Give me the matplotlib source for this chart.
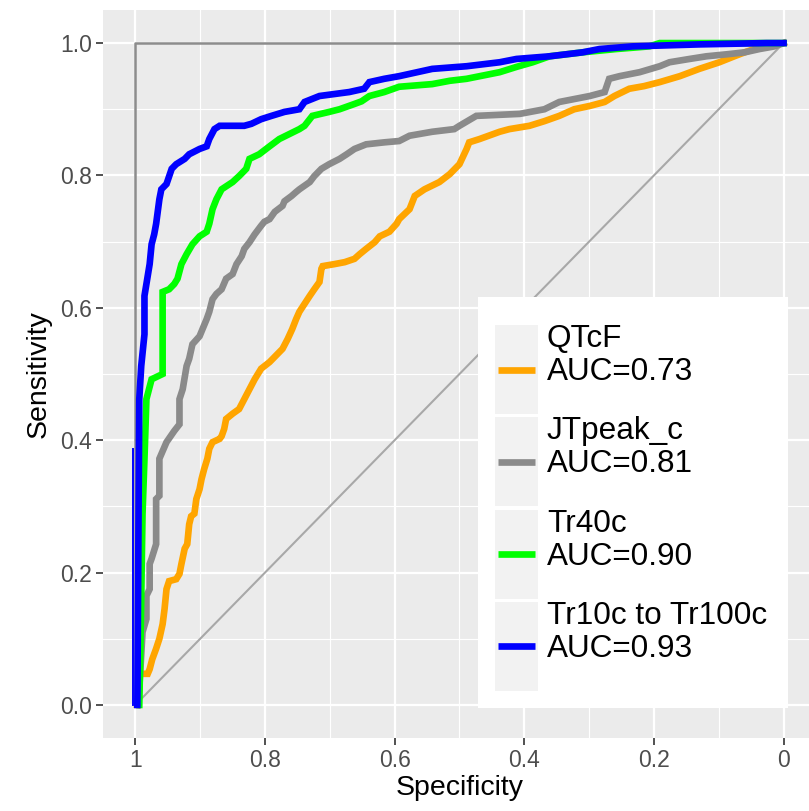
import matplotlib
matplotlib.use("Agg")
import matplotlib.pyplot as plt
from matplotlib.patches import Rectangle

plt.rcParams['font.family'] = ['Liberation Sans', 'DejaVu Sans']

# ROC curves: specificity (x, reversed) and sensitivity (y)
qtcf_spec = [0.997, 0.994, 0.981, 0.978, 0.974, 0.968, 0.963, 0.958, 0.955, 0.952, 0.948, 0.937,
             0.932, 0.929, 0.924, 0.920, 0.917, 0.914, 0.909, 0.906, 0.901, 0.898, 0.894, 0.889,
             0.886, 0.881, 0.870, 0.867, 0.863, 0.860, 0.850, 0.840, 0.832, 0.824, 0.816, 0.806,
             0.793, 0.781, 0.773, 0.765, 0.758, 0.752, 0.747, 0.739, 0.731, 0.724, 0.716, 0.713,
             0.711, 0.693, 0.677, 0.662, 0.654, 0.644, 0.631, 0.623, 0.608, 0.597, 0.593, 0.577,
             0.569, 0.554, 0.531, 0.515, 0.500, 0.489, 0.485, 0.469, 0.438, 0.423, 0.392, 0.369,
             0.346, 0.323, 0.299, 0.276, 0.261, 0.238, 0.215, 0.191, 0.160, 0.130, 0.099, 0.076,
             0.060, 0.045, 0.022, 0.0]
qtcf_sens = [0.0, 0.047, 0.047, 0.054, 0.069, 0.085, 0.100, 0.122, 0.145, 0.175, 0.187, 0.190,
             0.198, 0.213, 0.236, 0.243, 0.273, 0.285, 0.289, 0.311, 0.326, 0.341, 0.356, 0.372,
             0.387, 0.397, 0.402, 0.406, 0.417, 0.432, 0.440, 0.447, 0.462, 0.477, 0.492, 0.508,
             0.518, 0.530, 0.538, 0.553, 0.568, 0.583, 0.594, 0.606, 0.618, 0.628, 0.639, 0.659,
             0.663, 0.666, 0.669, 0.674, 0.681, 0.689, 0.699, 0.708, 0.715, 0.727, 0.734, 0.749,
             0.769, 0.779, 0.790, 0.802, 0.817, 0.840, 0.850, 0.855, 0.866, 0.870, 0.875, 0.882,
             0.890, 0.900, 0.905, 0.911, 0.920, 0.931, 0.935, 0.941, 0.950, 0.961, 0.971, 0.980,
             0.986, 0.991, 0.995, 1.0]

jt_spec = [0.997, 0.994, 0.989, 0.983, 0.983, 0.978, 0.978, 0.975, 0.968, 0.968, 0.963, 0.963,
           0.952, 0.940, 0.932, 0.932, 0.927, 0.921, 0.917, 0.912, 0.901, 0.890, 0.886, 0.881,
           0.875, 0.867, 0.860, 0.850, 0.844, 0.836, 0.832, 0.824, 0.816, 0.806, 0.801, 0.793,
           0.785, 0.773, 0.770, 0.759, 0.752, 0.747, 0.731, 0.724, 0.713, 0.701, 0.685, 0.674,
           0.662, 0.644, 0.616, 0.593, 0.577, 0.542, 0.508, 0.500, 0.474, 0.407, 0.369, 0.346,
           0.299, 0.276, 0.269, 0.253, 0.222, 0.191, 0.176, 0.145, 0.119, 0.088, 0.060, 0.037,
           0.014, 0.0]
jt_sens = [0.0, 0.024, 0.110, 0.130, 0.165, 0.175, 0.213, 0.221, 0.243, 0.311, 0.316, 0.372,
           0.397, 0.414, 0.424, 0.462, 0.477, 0.512, 0.523, 0.545, 0.557, 0.583, 0.594, 0.613,
           0.621, 0.628, 0.644, 0.651, 0.666, 0.678, 0.689, 0.699, 0.711, 0.724, 0.730, 0.734,
           0.745, 0.754, 0.761, 0.769, 0.775, 0.779, 0.790, 0.799, 0.810, 0.817, 0.825, 0.832,
           0.840, 0.847, 0.850, 0.852, 0.860, 0.866, 0.870, 0.875, 0.890, 0.893, 0.900, 0.911,
           0.920, 0.926, 0.946, 0.950, 0.956, 0.965, 0.971, 0.976, 0.980, 0.983, 0.986, 0.991,
           0.995, 1.0]

tr40_spec = [0.994, 0.992, 0.989, 0.986, 0.983, 0.975, 0.958, 0.958, 0.948, 0.940, 0.935, 0.929,
             0.921, 0.912, 0.901, 0.890, 0.886, 0.881, 0.875, 0.867, 0.850, 0.840, 0.829, 0.824,
             0.809, 0.793, 0.778, 0.747, 0.739, 0.727, 0.701, 0.685, 0.662, 0.651, 0.639, 0.616,
             0.593, 0.542, 0.515, 0.489, 0.438, 0.412, 0.387, 0.361, 0.310, 0.258, 0.207, 0.191,
             0.0]
tr40_sens = [0.0, 0.100, 0.289, 0.372, 0.462, 0.492, 0.500, 0.624, 0.628, 0.636, 0.644, 0.666,
             0.681, 0.696, 0.708, 0.715, 0.727, 0.749, 0.764, 0.779, 0.790, 0.799, 0.810, 0.825,
             0.832, 0.844, 0.855, 0.870, 0.875, 0.890, 0.896, 0.900, 0.908, 0.912, 0.920, 0.926,
             0.934, 0.938, 0.943, 0.946, 0.956, 0.964, 0.971, 0.980, 0.986, 0.991, 0.995, 1.0,
             1.0]

tr10_spec = [0.997, 0.994, 0.991, 0.986, 0.986, 0.978, 0.975, 0.971, 0.968, 0.963, 0.960, 0.952,
             0.944, 0.937, 0.924, 0.917, 0.901, 0.890, 0.886, 0.878, 0.870, 0.832, 0.821, 0.806,
             0.790, 0.770, 0.747, 0.739, 0.716, 0.670, 0.647, 0.639, 0.616, 0.593, 0.542, 0.489,
             0.438, 0.412, 0.361, 0.310, 0.284, 0.233, 0.130, 0.026, 0.0]
tr10_sens = [0.0, 0.462, 0.512, 0.560, 0.618, 0.666, 0.696, 0.711, 0.727, 0.764, 0.779, 0.787,
             0.810, 0.817, 0.825, 0.832, 0.840, 0.844, 0.855, 0.870, 0.875, 0.875, 0.878, 0.885,
             0.890, 0.896, 0.900, 0.911, 0.920, 0.926, 0.931, 0.941, 0.946, 0.950, 0.961, 0.965,
             0.971, 0.976, 0.980, 0.986, 0.991, 0.995, 0.998, 1.0, 1.0]

names = ["QTcF", "JTpeak_c", "Tr40c", "Tr10c to Tr100c"]
aucs = [0.73, 0.81, 0.90, 0.93]
colors = ["#FFA500", "#8A8A8A", "#00FF00", "#0000FF"]
curves = [(qtcf_spec, qtcf_sens), (jt_spec, jt_sens), (tr40_spec, tr40_sens), (tr10_spec, tr10_sens)]

perfect_spec = [1, 1, 0]
perfect_sens = [0, 1, 1]
chance_spec = [1, 0]
chance_sens = [0, 1]
thin_blue_spec = [1.004, 1.004]
thin_blue_sens = [0.0, 0.387]

fig = plt.figure(figsize=(8.09, 8.11), dpi=100)
ax = fig.add_axes([0.1273, 0.0900, 0.8813, 0.8977])
ax.set_facecolor("#EBEBEB")
for s in ax.spines.values():
    s.set_visible(False)

ax.set_xlim(1.05, -0.05)
ax.set_ylim(-0.05, 1.05)
ticks = [0, 0.2, 0.4, 0.6, 0.8, 1.0]
minor = [0.1, 0.3, 0.5, 0.7, 0.9]
ax.set_xticks(ticks)
ax.set_xticklabels(["0", "0.2", "0.4", "0.6", "0.8", "1"])
ax.set_yticks(ticks)
ax.set_yticklabels(["0.0", "0.2", "0.4", "0.6", "0.8", "1.0"])
ax.set_xticks(minor, minor=True)
ax.set_yticks(minor, minor=True)
ax.grid(which="major", color="white", lw=1.6)
ax.grid(which="minor", color="white", lw=0.8)
ax.set_axisbelow(True)
ax.tick_params(which="major", length=5, width=1.2, color="#333333", labelcolor="#4D4D4D",
               labelsize=16.5, pad=3)
ax.tick_params(which="minor", length=0)

ax.set_xlabel("Specificity", fontsize=20.5, labelpad=2)
ax.set_ylabel("Sensitivity", fontsize=20.5, labelpad=6)

ax.plot(perfect_spec, perfect_sens, color="#8C8C8C", lw=1.8, zorder=2)
ax.plot(chance_spec, chance_sens, color="#A8A8A8", lw=1.5, zorder=2)
ax.plot(thin_blue_spec, thin_blue_sens, color="#0000FF", lw=1.4, zorder=2)
for (sx, sy), c in zip(curves, colors):
    ax.plot(sx, sy, color=c, lw=4.8, solid_joinstyle="miter", zorder=3)

# legend drawn by hand, in its own pixel-unit axes
lg = fig.add_axes([478 / 809, 1 - 708 / 811, 310 / 809, 411 / 811])
lg.set_xlim(0, 310)
lg.set_ylim(411, 0)
lg.axis("off")
lg.add_patch(Rectangle((0, 0), 310, 411, facecolor="white", edgecolor="none"))
key_top = 28
key_h = 89
key_step = 92.3
for i, (name, auc, c) in enumerate(zip(names, aucs, colors)):
    top = key_top + i * key_step
    mid = top + key_h / 2
    lg.add_patch(Rectangle((17, top), 43, key_h, facecolor="#F2F2F2", edgecolor="none"))
    lg.plot([20, 57], [mid, mid], color=c, lw=4.8, solid_capstyle="butt")
    lg.text(69, mid - 22.5, name, fontsize=22.7, va="baseline", ha="left")
    lg.text(69, mid + 10.5, "AUC=%.2f" % auc, fontsize=22.7, va="baseline", ha="left")

fig.savefig("out.png", dpi=100)
